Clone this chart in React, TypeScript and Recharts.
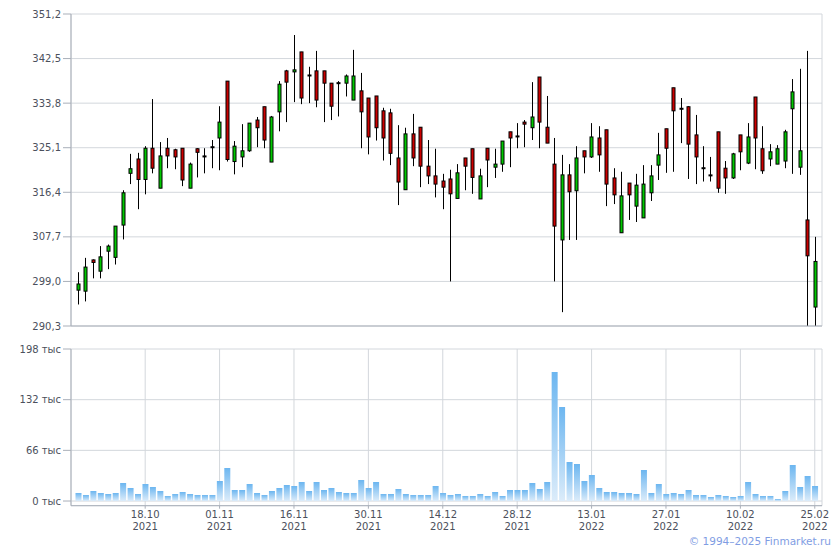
import React from "react"
import { ComposedChart, Bar, XAxis, YAxis, CartesianGrid } from "recharts"

// trading days, 05.10.2021 – 25.02.2022
const dates = [
  "05.10.2021", "06.10.2021", "07.10.2021", "08.10.2021", "11.10.2021", "12.10.2021", "13.10.2021", "14.10.2021", "15.10.2021", "18.10.2021",
  "19.10.2021", "20.10.2021", "21.10.2021", "22.10.2021", "25.10.2021", "26.10.2021", "27.10.2021", "28.10.2021", "29.10.2021", "01.11.2021",
  "02.11.2021", "03.11.2021", "05.11.2021", "08.11.2021", "09.11.2021", "10.11.2021", "11.11.2021", "12.11.2021", "15.11.2021", "16.11.2021",
  "17.11.2021", "18.11.2021", "19.11.2021", "22.11.2021", "23.11.2021", "24.11.2021", "25.11.2021", "26.11.2021", "29.11.2021", "30.11.2021",
  "01.12.2021", "02.12.2021", "03.12.2021", "06.12.2021", "07.12.2021", "08.12.2021", "09.12.2021", "10.12.2021", "13.12.2021", "14.12.2021",
  "15.12.2021", "16.12.2021", "17.12.2021", "20.12.2021", "21.12.2021", "22.12.2021", "23.12.2021", "24.12.2021", "27.12.2021", "28.12.2021",
  "29.12.2021", "30.12.2021", "03.01.2022", "04.01.2022", "05.01.2022", "06.01.2022", "10.01.2022", "11.01.2022", "12.01.2022", "13.01.2022",
  "14.01.2022", "17.01.2022", "18.01.2022", "19.01.2022", "20.01.2022", "21.01.2022", "24.01.2022", "25.01.2022", "26.01.2022", "27.01.2022",
  "28.01.2022", "31.01.2022", "01.02.2022", "02.02.2022", "03.02.2022", "04.02.2022", "07.02.2022", "08.02.2022", "09.02.2022", "10.02.2022",
  "11.02.2022", "14.02.2022", "15.02.2022", "16.02.2022", "17.02.2022", "18.02.2022", "21.02.2022", "22.02.2022", "24.02.2022", "25.02.2022",
]

const open = [
  297.3, 297.1, 303.2, 301.0, 304.9, 303.7, 310.0, 320.1, 322.9, 318.9,
  325.0, 317.2, 325.0, 324.7, 325.0, 317.2, 324.9, 323.4, 325.2, 327.0,
  338.1, 322.4, 323.3, 324.5, 330.5, 333.1, 322.3, 332.1, 340.1, 339.9,
  343.8, 339.2, 340.1, 340.1, 337.7, 337.7, 337.7, 334.4, 336.2, 334.8,
  335.2, 332.3, 331.9, 323.1, 316.9, 327.8, 329.1, 321.5, 319.6, 318.6,
  319.0, 315.2, 323.1, 324.9, 315.1, 325.0, 321.3, 321.9, 328.2, 327.3,
  330.1, 329.0, 338.9, 329.1, 321.9, 307.1, 319.8, 316.7, 324.5, 323.3,
  327.0, 328.6, 319.2, 308.5, 318.2, 313.7, 311.4, 316.3, 321.7, 328.8,
  336.8, 332.7, 333.1, 327.6, 321.1, 319.7, 328.2, 321.1, 319.2, 327.6,
  322.1, 335.0, 324.9, 322.9, 321.9, 322.5, 332.7, 321.3, 311.0, 294.0,
]
const high = [
  300.8, 303.6, 303.3, 305.9, 306.2, 309.8, 316.8, 323.9, 324.1, 325.4,
  334.6, 326.2, 327.0, 324.9, 325.0, 322.2, 325.0, 325.0, 326.6, 333.2,
  338.1, 326.4, 329.7, 329.9, 331.1, 333.1, 331.3, 338.1, 340.3, 347.1,
  343.8, 340.9, 344.0, 340.1, 337.7, 338.1, 339.4, 344.2, 339.7, 334.8,
  335.2, 332.9, 332.7, 329.5, 329.0, 331.7, 329.1, 326.6, 324.9, 320.0,
  320.8, 321.9, 323.1, 324.9, 321.0, 325.0, 324.9, 326.4, 328.2, 329.9,
  330.5, 337.9, 338.9, 335.2, 327.0, 323.7, 321.9, 325.4, 324.5, 329.9,
  329.3, 328.6, 321.1, 320.4, 318.2, 320.0, 321.7, 321.7, 328.0, 328.8,
  336.8, 334.8, 333.2, 331.5, 325.4, 323.3, 328.2, 322.5, 324.1, 327.6,
  329.9, 335.0, 329.3, 325.8, 325.6, 328.6, 338.5, 340.5, 344.0, 307.7,
]
const low = [
  294.5, 295.1, 299.6, 299.6, 301.4, 302.3, 307.2, 318.0, 313.1, 316.0,
  320.1, 317.2, 321.1, 320.9, 317.6, 317.2, 319.3, 320.1, 321.1, 320.7,
  322.4, 319.9, 321.3, 324.3, 325.2, 325.0, 322.3, 328.3, 330.1, 334.0,
  333.6, 333.8, 333.0, 330.1, 330.5, 331.2, 335.1, 334.4, 325.0, 323.8,
  326.5, 322.6, 321.7, 313.9, 316.9, 321.5, 317.4, 318.0, 315.4, 313.1,
  299.0, 315.2, 316.8, 316.1, 315.1, 317.4, 319.2, 320.4, 321.3, 325.0,
  325.2, 326.6, 325.0, 326.0, 299.0, 293.0, 307.1, 307.1, 320.1, 323.1,
  320.4, 313.7, 314.1, 308.5, 311.0, 310.6, 311.4, 314.7, 318.8, 320.2,
  320.4, 326.0, 319.0, 318.0, 318.5, 318.5, 316.3, 316.1, 319.0, 320.7,
  321.9, 320.9, 320.0, 321.5, 321.9, 321.1, 320.0, 319.8, 290.3, 290.3,
]
const close = [
  298.5, 301.8, 302.7, 303.8, 305.9, 309.8, 316.3, 321.0, 318.9, 325.0,
  321.1, 323.5, 323.5, 323.3, 318.8, 321.9, 324.2, 323.4, 325.2, 330.1,
  322.8, 325.4, 324.5, 329.9, 329.0, 326.6, 331.1, 337.5, 337.9, 340.3,
  334.8, 339.2, 334.4, 337.7, 333.2, 337.7, 339.1, 339.1, 332.1, 327.2,
  329.0, 327.0, 324.0, 318.4, 327.8, 323.1, 321.5, 319.6, 318.0, 317.4,
  316.1, 320.2, 321.5, 319.3, 319.6, 322.7, 321.9, 326.4, 327.0, 327.3,
  329.7, 331.1, 330.1, 326.0, 309.8, 319.8, 316.5, 323.1, 323.3, 327.2,
  323.7, 318.0, 315.9, 315.7, 315.9, 317.8, 318.0, 319.6, 323.7, 325.0,
  332.3, 332.7, 325.8, 323.3, 321.1, 319.7, 317.2, 319.2, 323.9, 324.3,
  327.2, 327.0, 320.6, 324.3, 324.9, 328.2, 336.0, 324.5, 304.0, 302.9,
]
// volume, thousands
const volume = [
  10.4, 7.8, 13.0, 10.4, 9.1, 10.4, 23.4, 16.9, 9.1, 22.1,
  18.2, 13.0, 6.5, 9.1, 11.7, 9.1, 7.8, 7.8, 7.8, 26.1,
  43.0, 14.3, 14.3, 22.1, 10.4, 7.8, 13.0, 16.9, 20.8, 19.5,
  24.7, 13.0, 24.7, 14.3, 16.9, 11.7, 10.4, 10.4, 27.4, 16.9,
  24.7, 9.1, 9.1, 15.6, 9.1, 7.8, 7.8, 7.8, 19.5, 10.4,
  7.8, 9.1, 6.5, 6.5, 9.1, 6.5, 11.7, 6.5, 14.3, 14.3,
  14.3, 23.4, 15.6, 24.7, 168.0, 122.4, 50.8, 48.2, 26.1, 33.9,
  16.9, 11.7, 11.7, 10.4, 10.4, 9.1, 40.4, 10.4, 22.1, 9.1,
  10.4, 9.1, 14.3, 7.8, 7.8, 5.2, 7.8, 6.5, 5.2, 6.5,
  24.7, 9.1, 6.5, 6.5, 2.6, 13.0, 46.9, 18.2, 32.6, 19.5,
]

const tickDates = [
  "18.10.2021", "01.11.2021", "16.11.2021", "30.11.2021", "14.12.2021",
  "28.12.2021", "13.01.2022", "27.01.2022", "10.02.2022", "25.02.2022",
]
const priceTicks = [290.3, 299.0, 307.7, 316.4, 325.1, 333.8, 342.5, 351.2]
const volumeTicks = [0, 66, 132, 198]

const rows = dates.map((date, i) => ({
  date,
  open: open[i],
  high: high[i],
  low: low[i],
  close: close[i],
  vol: volume[i],
}))

const GREEN = "#00c800"
const RED = "#cc0000"
const GRID = "#d3d7dc"
const AXIS = "#a9afb9"
const FONT = "DejaVu Sans, Verdana, sans-serif"
const LABEL = { fontSize: 10, fill: "#4b505c", fontFamily: FONT }

function Candle(props: any) {
  const { x, y, width, height, payload } = props
  if (x == null || !payload) return null
  const top = Math.min(y, y + height)
  const h = Math.abs(height)
  const k = h / (payload.high - payload.low || 1)
  const cx = Math.round(x + width / 2) + 0.5
  const yO = top + (payload.high - payload.open) * k
  const yC = top + (payload.high - payload.close) * k
  const bodyTop = Math.min(yO, yC)
  const bodyH = Math.abs(yO - yC)
  return (
    <g>
      <line x1={cx} x2={cx} y1={top} y2={top + h} stroke="#000" strokeWidth={1} />
      {payload.open === payload.close ? (
        <rect x={cx - 2} y={bodyTop - 1} width={4} height={2} fill="#000" />
      ) : (
        <rect
          x={cx - 1.5}
          y={bodyTop}
          width={3}
          height={Math.max(bodyH, 1)}
          fill={payload.close > payload.open ? GREEN : RED}
          stroke="#000"
          strokeWidth={1}
        />
      )}
    </g>
  )
}

function DateTick(props: any) {
  const { x, y, payload } = props
  const [d, m, yr] = String(payload.value).split(".")
  return (
    <text x={x} y={y} textAnchor="middle" {...LABEL}>
      <tspan x={x} dy="0.71em">{`${d}.${m}`}</tspan>
      <tspan x={x} dy={11.7}>{yr}</tspan>
    </text>
  )
}

export default function App() {
  return (
    <div style={{ position: "absolute", left: 0, top: 0, width: 840, height: 550, background: "#fff" }}>
      {/* price */}
      <div style={{ position: "absolute", left: 0, top: 0 }}>
        <ComposedChart width={840} height={340} data={rows} margin={{ top: 14, right: 18, bottom: 0, left: 0 }}>
          <CartesianGrid stroke={GRID} />
          <XAxis
            dataKey="date"
            ticks={tickDates}
            interval={0}
            tick={false}
            tickSize={6}
            tickLine={{ stroke: AXIS }}
            axisLine={{ stroke: AXIS }}
            height={14}
            padding={{ left: 3.5, right: 3.5 }}
          />
          <YAxis
            domain={[290.3, 351.2]}
            ticks={priceTicks}
            allowDataOverflow
            width={71}
            tickSize={8}
            tickMargin={2}
            tickLine={{ stroke: AXIS }}
            axisLine={{ stroke: AXIS }}
            tick={LABEL}
            tickFormatter={(v: number) => v.toFixed(1).replace(".", ",")}
          />
          <Bar
            dataKey={(d: any) => [d.low, d.high]}
            shape={<Candle />}
            barSize={7}
            isAnimationActive={false}
          />
        </ComposedChart>
      </div>

      {/* volume */}
      <div style={{ position: "absolute", left: 0, top: 340 }}>
        <ComposedChart width={840} height={210} data={rows} margin={{ top: 9, right: 18, bottom: 0, left: 0 }}>
          <defs>
            <linearGradient id="volGrad" x1="0" y1="0" x2="0" y2="1">
              <stop offset="0%" stopColor="#6cb6f0" />
              <stop offset="100%" stopColor="#dcecfa" />
            </linearGradient>
          </defs>
          <CartesianGrid stroke={GRID} />
          <XAxis
            dataKey="date"
            ticks={tickDates}
            interval={0}
            tick={<DateTick />}
            tickSize={3}
            tickMargin={2}
            tickLine={{ stroke: AXIS }}
            axisLine={{ stroke: AXIS }}
            height={44.3}
            padding={{ left: 3.5, right: 3.5 }}
          />
          <YAxis
            domain={[-6.1, 198]}
            ticks={volumeTicks}
            allowDataOverflow
            width={71}
            tickSize={8}
            tickMargin={2}
            tickLine={{ stroke: AXIS }}
            axisLine={{ stroke: AXIS }}
            tick={LABEL}
            tickFormatter={(v: number) => `${v} тыс`}
          />
          <Bar dataKey="vol" fill="url(#volGrad)" barSize={6} isAnimationActive={false} />
        </ComposedChart>
      </div>

      <div
        style={{
          position: "absolute",
          right: 9,
          top: 535,
          fontFamily: FONT,
          fontSize: 10.5,
          color: "#7f9de3",
          whiteSpace: "nowrap",
        }}
      >
        © 1994–2025 Finmarket.ru
      </div>
    </div>
  )
}
